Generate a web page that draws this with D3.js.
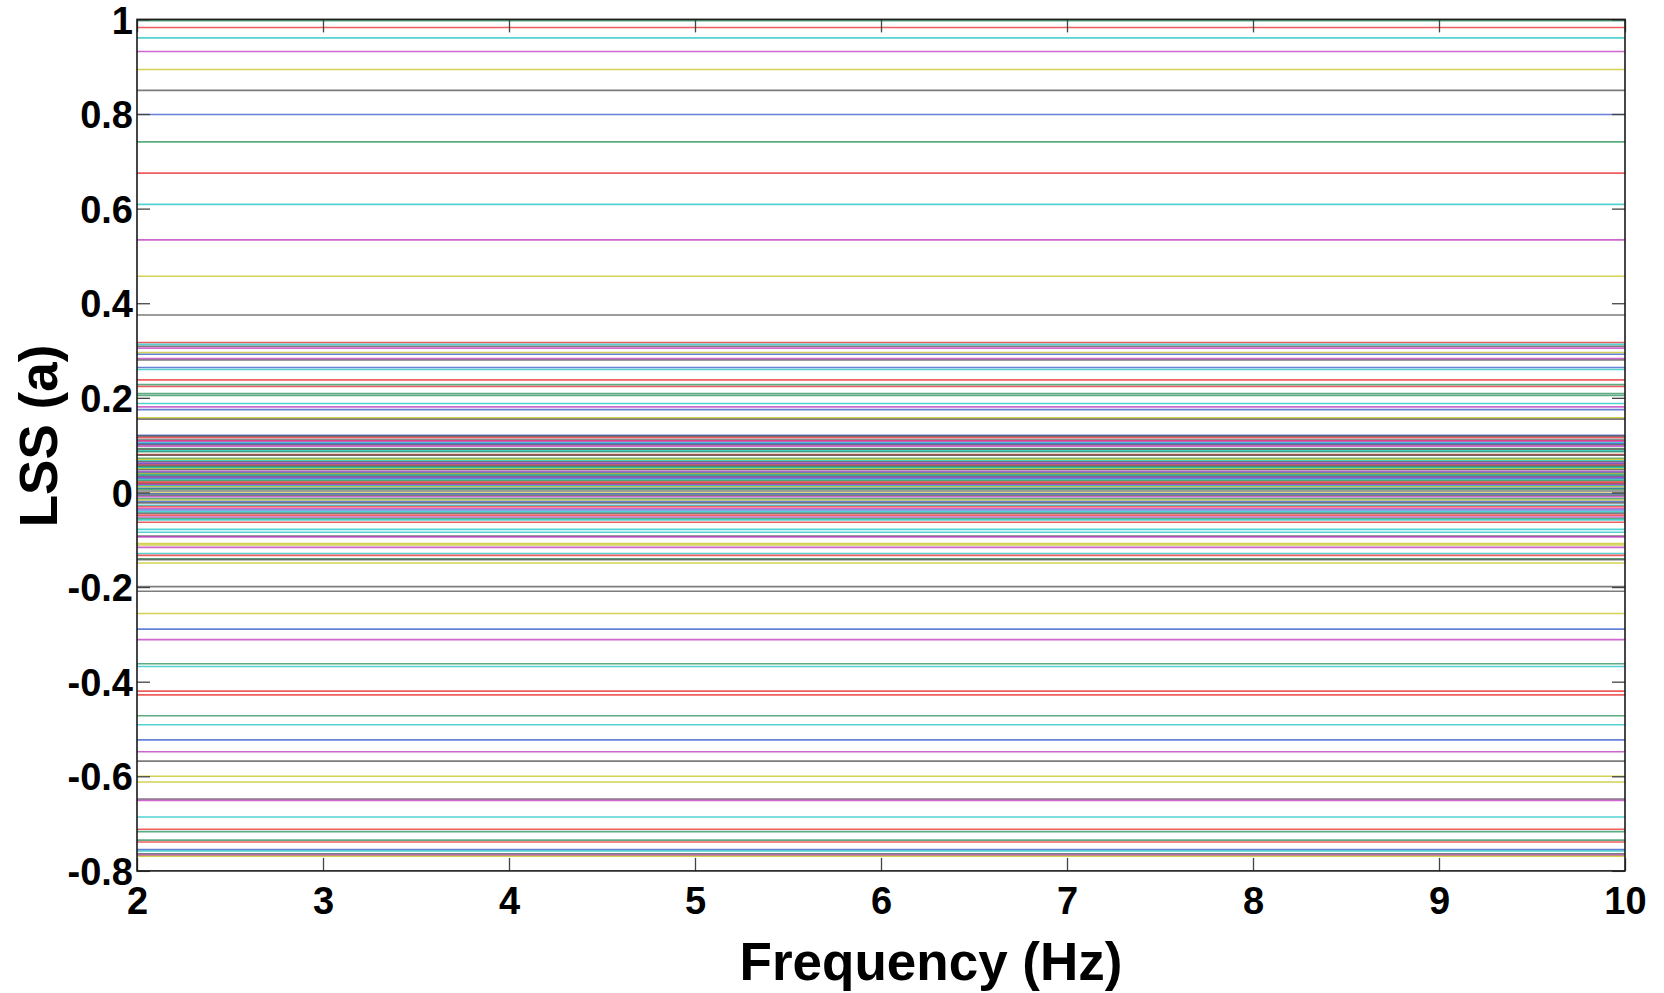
<!DOCTYPE html>
<html>
<head>
<meta charset="utf-8">
<script src="https://cdn.jsdelivr.net/npm/d3@7"></script>
<style>
  html, body { margin: 0; padding: 0; background: #ffffff; }
  svg { display: block; }
  text { font-family: "Liberation Sans", Arial, Helvetica, sans-serif; fill: #000; }
</style>
</head>
<body>
<svg id="chart" width="1664" height="993"></svg>
<script>
// ---- data ----
const frequencies = [2, 3, 4, 5, 6, 7, 8, 9, 10];          // Hz, x samples of each curve
const xTicks = [2, 3, 4, 5, 6, 7, 8, 9, 10];
const yTicks = [1, 0.8, 0.6, 0.4, 0.2, 0, -0.2, -0.4, -0.6, -0.8];
const yTickLabels = ["1", "0.8", "0.6", "0.4", "0.2", "0", "-0.2", "-0.4", "-0.6", "-0.8"];

// LSS value of every curve (each curve is flat over frequency)
const lssValues = [
  1.000, 0.997, 0.983, 0.961, 0.932, 0.894, 0.850, 0.799, 0.741, 0.675,
  0.609, 0.534, 0.457, 0.375,
  0.317, 0.313, 0.309, 0.305, 0.296, 0.292, 0.283, 0.280, 0.264, 0.260,
  0.238, 0.228, 0.224, 0.209, 0.205, 0.188, 0.181, 0.175, 0.158, 0.155,
  0.121, 0.119, 0.116, 0.112, 0.110, 0.108, 0.105, 0.103, 0.101, 0.098,
  0.093, 0.091, 0.088, 0.086, 0.080, 0.079, 0.072, 0.070, 0.067, 0.065,
  0.062, 0.060, 0.058, 0.056, 0.054, 0.052, 0.050, 0.048, 0.044, 0.042,
  0.040, 0.038, 0.036, 0.034, 0.032, 0.030, 0.027, 0.025, 0.022, 0.020,
  0.018, 0.016, 0.014, 0.012, 0.009, 0.007, 0.003, -0.001, -0.003, -0.006,
  -0.009, -0.013, -0.016, -0.019, -0.022, -0.027, -0.030, -0.034, -0.037, -0.041,
  -0.044, -0.048, -0.052, -0.055, -0.058, -0.063,
  -0.078, -0.084, -0.092, -0.094, -0.108, -0.111, -0.116, -0.129, -0.133, -0.140,
  -0.142, -0.149,
  -0.199, -0.209, -0.256, -0.289, -0.311, -0.362, -0.368, -0.420, -0.428, -0.472,
  -0.491, -0.523, -0.548, -0.568, -0.600, -0.612, -0.648, -0.651, -0.686, -0.712,
  -0.717, -0.735, -0.739, -0.755, -0.758, -0.764, -0.767, -0.769
];
// colour-order code of every curve (MATLAB b g r c m y k)
const lssColorCodes = [
  "b","g","r","c","m","y","k","b","g","r",
  "c","m","y","k",
  "r","c","k","m","y","b","m","k","b","c",
  "r","g","r","g","g","c","m","b","y","k",
  "b","k","r","c","r","m","c","b","k","m",
  "g","k","c","g","r","k","g","y","c","k",
  "m","b","r","k","g","c","y","k","m","b",
  "y","g","c","k","m","b","c","g","r","r",
  "k","m","c","y","b","g","k","y","b","k",
  "m","g","y","b","k","c","r","m","b","c",
  "k","r","m","g","c","r",
  "c","c","k","m","y","y","m","c","r","g",
  "k","y",
  "k","k","y","b","m","g","c","r","r","g",
  "c","b","m","k","y","y","k","m","c","r",
  "g","g","r","b","c","k","m","y"
];
const colorCodes = ["b", "g", "r", "c", "m", "y", "k"];

// ---- layout ----
const W = 1664, H = 993;
const plot = { left: 137, right: 1625, top: 19.4, bottom: 870.9 };

const svg = d3.select("#chart");
const x = d3.scaleLinear().domain([2, 10]).range([plot.left, plot.right]);
const y = d3.scaleLinear().domain([-0.8, 1]).range([plot.bottom, plot.top]);
const color = d3.scaleOrdinal()
  .domain(colorCodes)
  .range(["#2a52c8", "#1f8a52", "#e82020", "#12c0c0", "#bb2cbb", "#c4c010", "#4a4a4a"]);

const series = lssValues.map((v, i) => ({
  code: lssColorCodes[i],
  points: frequencies.map(f => ({ f: f, v: v }))
}));

svg.append("defs").append("clipPath").attr("id", "clip")
  .append("rect")
  .attr("x", plot.left).attr("y", plot.top)
  .attr("width", plot.right - plot.left).attr("height", plot.bottom - plot.top);

const line = d3.line().x(d => x(d.f)).y(d => y(d.v));

svg.append("g").attr("clip-path", "url(#clip)")
  .selectAll("path").data(series).join("path")
  .attr("d", d => line(d.points))
  .attr("fill", "none")
  .attr("stroke", d => color(d.code))
  .attr("stroke-width", 1.6)
  .attr("stroke-opacity", 0.72);

// ---- axes (MATLAB-like box with inward ticks on all four sides) ----
const tickLen = 13;
const fontTick = 38;

const axBottom = svg.append("g").attr("transform", `translate(0,${plot.bottom})`)
  .call(d3.axisBottom(x).tickValues(xTicks).tickSize(-tickLen).tickPadding(16).tickFormat(d3.format("d")));
const axTop = svg.append("g").attr("transform", `translate(0,${plot.top})`)
  .call(d3.axisTop(x).tickValues(xTicks).tickSize(-tickLen).tickFormat(""));
const axLeft = svg.append("g").attr("transform", `translate(${plot.left},0)`)
  .call(d3.axisLeft(y).tickValues(yTicks).tickSize(-tickLen).tickPadding(4)
    .tickFormat((d, i) => yTickLabels[i]));
const axRight = svg.append("g").attr("transform", `translate(${plot.right},0)`)
  .call(d3.axisRight(y).tickValues(yTicks).tickSize(-tickLen).tickFormat(""));

[axBottom, axTop, axLeft, axRight].forEach(g => {
  g.select(".domain").remove();
  g.selectAll(".tick line").attr("stroke", "#444").attr("stroke-width", 1.3);
});
axBottom.selectAll(".tick text")
  .attr("font-size", fontTick).attr("font-weight", "bold")
  .attr("font-family", "'Liberation Sans', Arial, sans-serif").attr("fill", "#000");
axLeft.selectAll(".tick text")
  .attr("font-size", fontTick).attr("font-weight", "bold")
  .attr("font-family", "'Liberation Sans', Arial, sans-serif").attr("fill", "#000")
  .attr("dy", "0.36em");

// box
svg.append("rect")
  .attr("x", plot.left).attr("y", plot.top)
  .attr("width", plot.right - plot.left).attr("height", plot.bottom - plot.top)
  .attr("fill", "none").attr("stroke", "#1a1a1a").attr("stroke-width", 1.6);

// ---- axis titles ----
svg.append("text")
  .attr("x", 931).attr("y", 980)
  .attr("text-anchor", "middle")
  .attr("font-size", 53).attr("font-weight", "bold")
  .text("Frequency (Hz)");

svg.append("text")
  .attr("transform", `translate(57,${436}) rotate(-90)`)
  .attr("text-anchor", "middle")
  .attr("font-size", 53).attr("font-weight", "bold")
  .text("LSS (a)");
</script>
</body>
</html>
